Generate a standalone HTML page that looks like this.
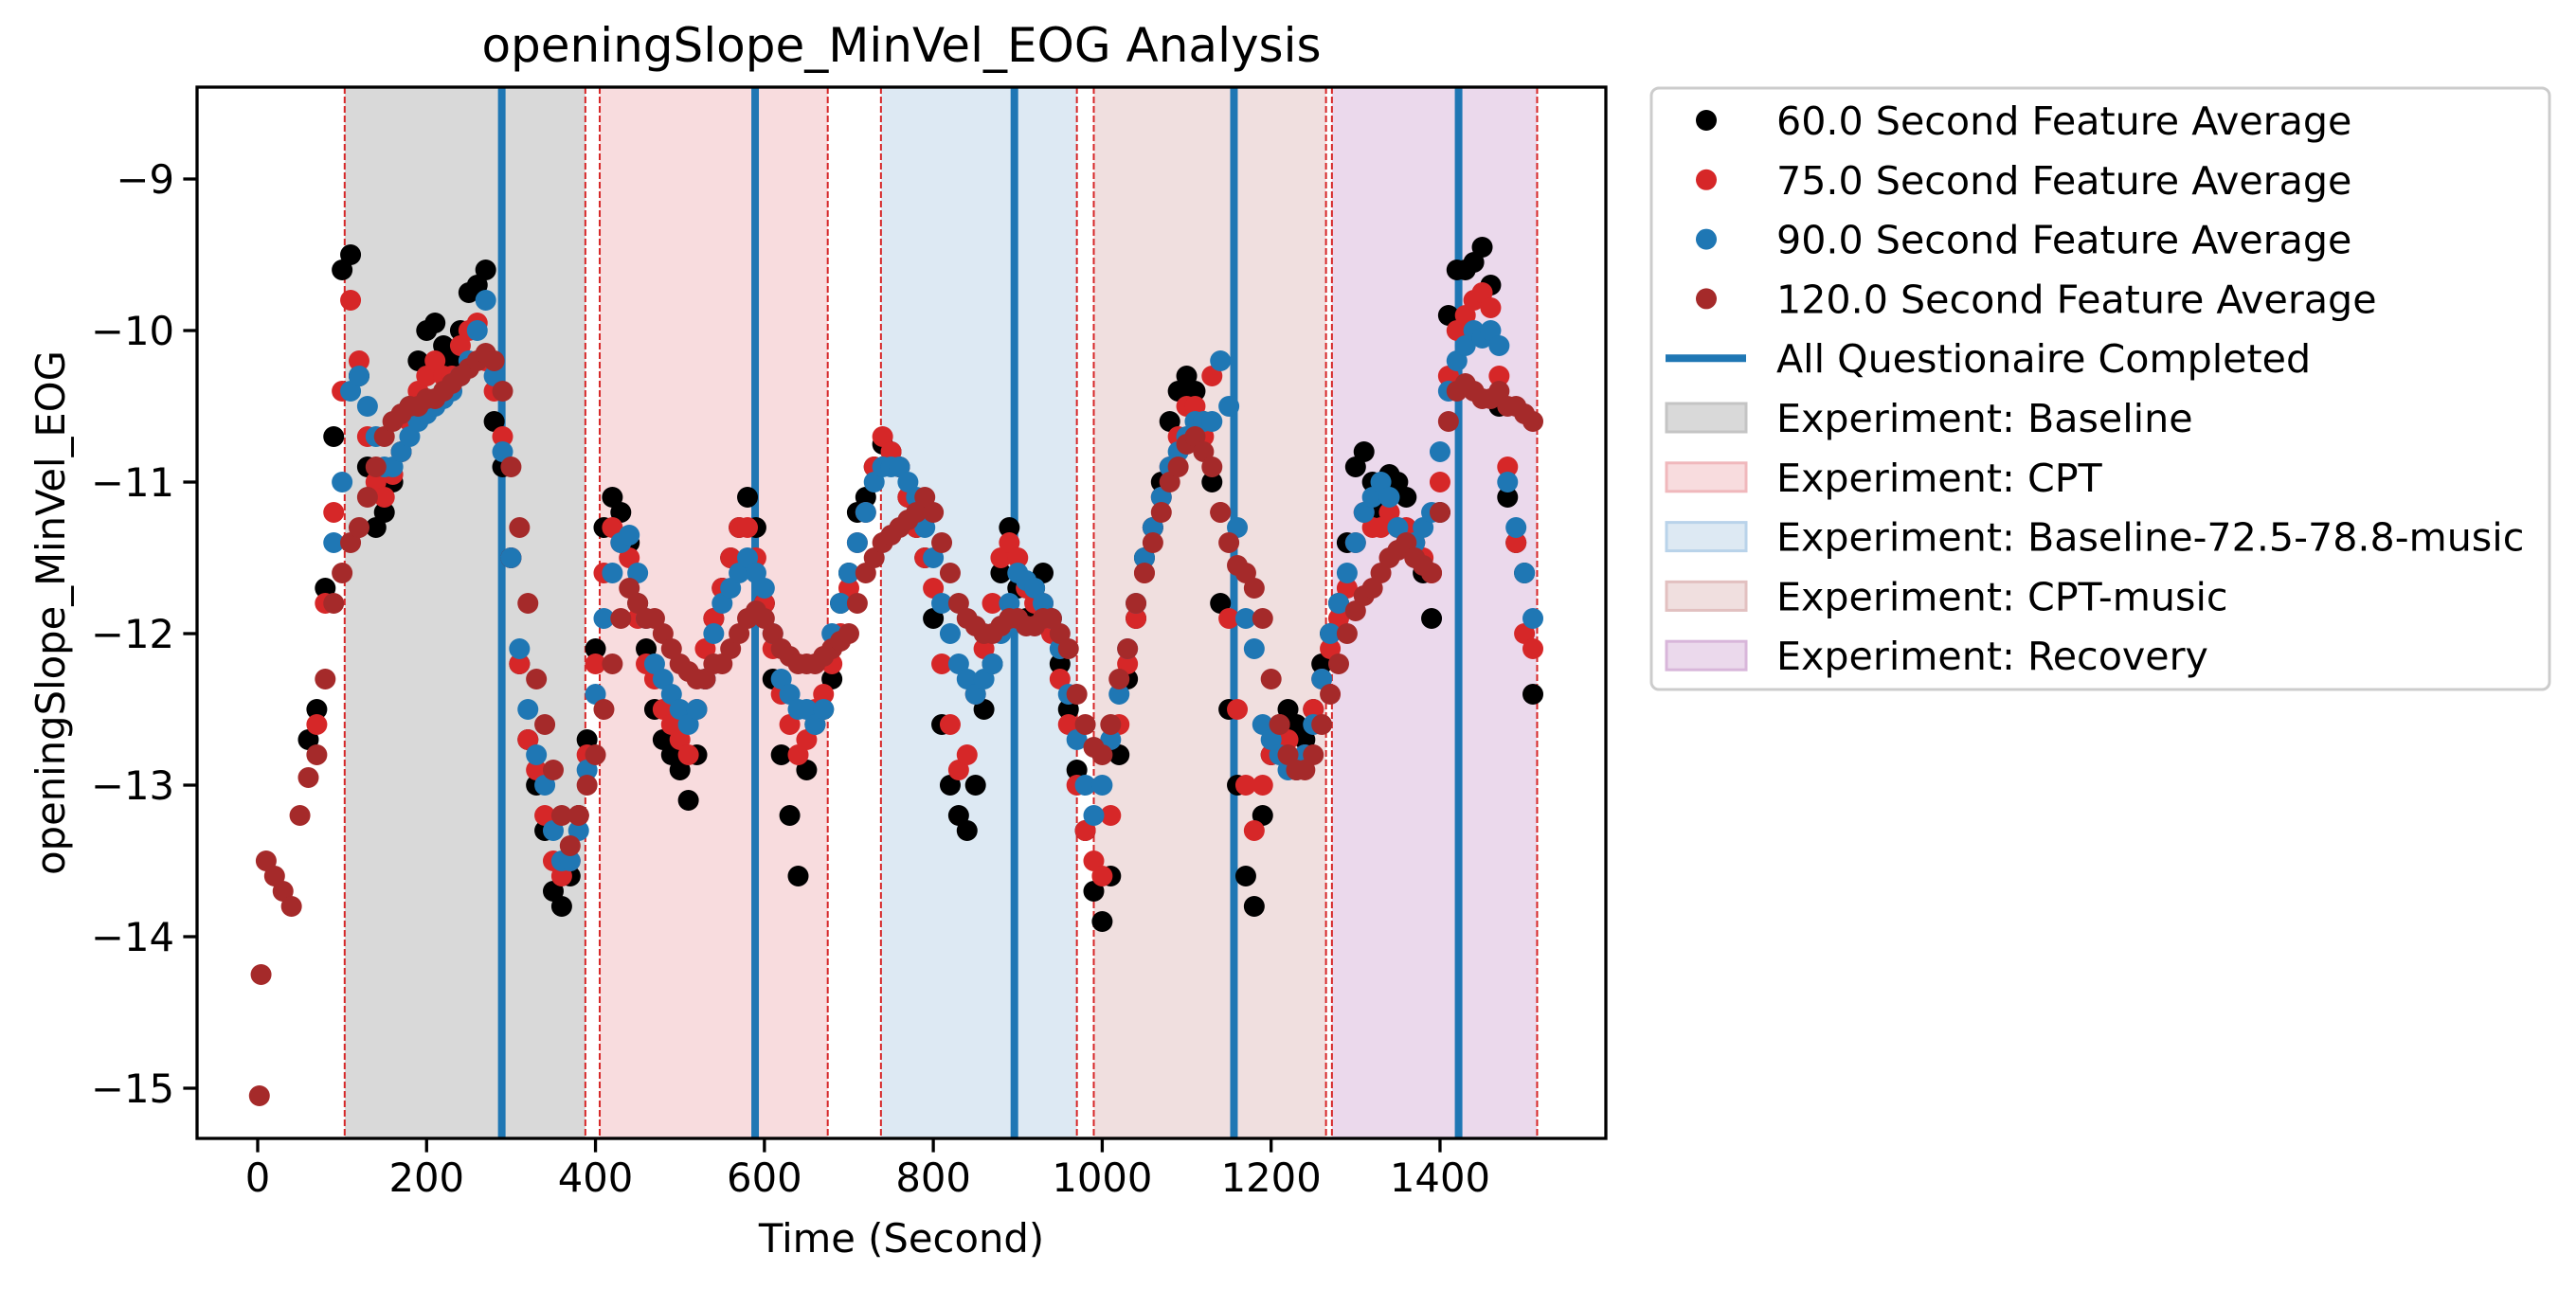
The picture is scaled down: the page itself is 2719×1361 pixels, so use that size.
<!DOCTYPE html>
<html><head><meta charset="utf-8">
<style>
html,body{margin:0;padding:0;background:#fff;}
svg{display:block;font-family:"DejaVu Sans","Liberation Sans",sans-serif;}
</style></head>
<body>
<svg id="chart" width="2719" height="1361" viewBox="0 0 2719 1361" xmlns="http://www.w3.org/2000/svg"></svg>
<script>
const t60=[60,70,80,90,100,110,120,130,140,150,160,170,180,190,200,210,220,230,240,250,260,270,280,290,300,310,320,330,340,350,360,370,380,390,400,410,420,430,440,450,460,470,480,490,500,510,520,530,540,550,560,570,580,590,600,610,620,630,640,650,660,670,680,690,700,710,720,730,740,750,760,770,780,790,800,810,820,830,840,850,860,870,880,890,900,910,920,930,940,950,960,970,980,990,1000,1010,1020,1030,1040,1050,1060,1070,1080,1090,1100,1110,1120,1130,1140,1150,1160,1170,1180,1190,1200,1210,1220,1230,1240,1250,1260,1270,1280,1290,1300,1310,1320,1330,1340,1350,1360,1370,1380,1390,1400,1410,1420,1430,1440,1450,1460,1470,1480,1490,1500,1510];
const v60=[-12.7,-12.5,-11.7,-10.7,-9.6,-9.5,-10.3,-10.9,-11.3,-11.2,-11.0,-10.8,-10.5,-10.2,-10.0,-9.95,-10.1,-10.2,-10.0,-9.75,-9.7,-9.6,-10.6,-10.9,-11.5,-12.2,-12.7,-13.0,-13.3,-13.7,-13.8,-13.6,-13.2,-12.7,-12.1,-11.3,-11.1,-11.2,-11.4,-11.8,-12.1,-12.5,-12.7,-12.8,-12.9,-13.1,-12.8,-12.3,-11.9,-11.7,-11.5,-11.3,-11.1,-11.3,-11.8,-12.3,-12.8,-13.2,-13.6,-12.9,-12.6,-12.5,-12.3,-11.8,-11.6,-11.2,-11.1,-10.9,-10.75,-10.8,-10.9,-11.1,-11.3,-11.5,-11.9,-12.6,-13.0,-13.2,-13.3,-13.0,-12.5,-12.2,-11.6,-11.3,-11.7,-11.9,-11.7,-11.6,-11.9,-12.2,-12.5,-12.9,-13.3,-13.7,-13.9,-13.6,-12.8,-12.3,-11.9,-11.5,-11.3,-11.0,-10.6,-10.4,-10.3,-10.4,-10.6,-11.0,-11.8,-12.5,-13.0,-13.6,-13.8,-13.2,-12.8,-12.6,-12.5,-12.6,-12.7,-12.5,-12.2,-12.0,-11.8,-11.4,-10.9,-10.8,-11.0,-11.2,-10.95,-11.0,-11.1,-11.4,-11.6,-11.9,-11.2,-9.9,-9.6,-9.6,-9.55,-9.45,-9.7,-10.5,-11.1,-11.4,-11.6,-12.4];
const t75=[70,80,90,100,110,120,130,140,150,160,170,180,190,200,210,220,230,240,250,260,270,280,290,300,310,320,330,340,350,360,370,380,390,400,410,420,430,440,450,460,470,480,490,500,510,520,530,540,550,560,570,580,590,600,610,620,630,640,650,660,670,680,690,700,710,720,730,740,750,760,770,780,790,800,810,820,830,840,850,860,870,880,890,900,910,920,930,940,950,960,970,980,990,1000,1010,1020,1030,1040,1050,1060,1070,1080,1090,1100,1110,1120,1130,1140,1150,1160,1170,1180,1190,1200,1210,1220,1230,1240,1250,1260,1270,1280,1290,1300,1310,1320,1330,1340,1350,1360,1370,1380,1390,1400,1410,1420,1430,1440,1450,1460,1470,1480,1490,1500,1510];
const v75=[-12.6,-11.8,-11.2,-10.4,-9.8,-10.2,-10.7,-11.0,-11.1,-10.95,-10.8,-10.6,-10.4,-10.3,-10.2,-10.3,-10.3,-10.1,-10.0,-9.95,-10.2,-10.4,-10.7,-11.5,-12.2,-12.7,-12.9,-13.2,-13.5,-13.6,-13.5,-13.2,-12.8,-12.2,-11.6,-11.3,-11.4,-11.5,-11.9,-12.2,-12.3,-12.5,-12.6,-12.7,-12.8,-12.5,-12.1,-11.9,-11.7,-11.5,-11.3,-11.3,-11.5,-11.8,-12.1,-12.4,-12.6,-12.8,-12.7,-12.5,-12.4,-12.2,-12.0,-11.7,-11.4,-11.2,-10.9,-10.7,-10.8,-10.9,-11.1,-11.3,-11.5,-11.7,-12.2,-12.6,-12.9,-12.8,-12.4,-12.1,-11.8,-11.5,-11.4,-11.5,-11.7,-11.8,-11.8,-12.0,-12.3,-12.6,-13.0,-13.3,-13.5,-13.6,-13.2,-12.6,-12.2,-11.9,-11.6,-11.3,-11.1,-10.9,-10.7,-10.5,-10.5,-10.7,-10.3,-11.2,-11.9,-12.5,-13.0,-13.3,-13.0,-12.8,-12.6,-12.7,-12.9,-12.8,-12.5,-12.3,-12.1,-11.9,-11.7,-11.4,-11.2,-11.3,-11.3,-11.2,-11.3,-11.3,-11.4,-11.5,-11.6,-11.0,-10.3,-10.0,-9.9,-9.8,-9.75,-9.85,-10.3,-10.9,-11.4,-12.0,-12.1];
const t90=[90,100,110,120,130,140,150,160,170,180,190,200,210,220,230,240,250,260,270,280,290,300,310,320,330,340,350,360,370,380,390,400,410,420,430,440,450,460,470,480,490,500,510,520,530,540,550,560,570,580,590,600,610,620,630,640,650,660,670,680,690,700,710,720,730,740,750,760,770,780,790,800,810,820,830,840,850,860,870,880,890,900,910,920,930,940,950,960,970,980,990,1000,1010,1020,1030,1040,1050,1060,1070,1080,1090,1100,1110,1120,1130,1140,1150,1160,1170,1180,1190,1200,1210,1220,1230,1240,1250,1260,1270,1280,1290,1300,1310,1320,1330,1340,1350,1360,1370,1380,1390,1400,1410,1420,1430,1440,1450,1460,1470,1480,1490,1500,1510];
const v90=[-11.4,-11.0,-10.4,-10.3,-10.5,-10.7,-10.9,-10.9,-10.8,-10.7,-10.6,-10.55,-10.5,-10.45,-10.4,-10.3,-10.2,-10.0,-9.8,-10.3,-10.8,-11.5,-12.1,-12.5,-12.8,-13.0,-13.3,-13.5,-13.5,-13.3,-12.9,-12.4,-11.9,-11.6,-11.4,-11.35,-11.6,-11.9,-12.2,-12.3,-12.4,-12.5,-12.6,-12.5,-12.3,-12.0,-11.8,-11.7,-11.6,-11.5,-11.6,-11.7,-12.0,-12.3,-12.4,-12.5,-12.5,-12.6,-12.5,-12.0,-11.8,-11.6,-11.4,-11.2,-11.0,-10.9,-10.9,-10.9,-11.0,-11.1,-11.3,-11.5,-11.8,-12.0,-12.2,-12.3,-12.4,-12.3,-12.2,-12.0,-11.8,-11.6,-11.65,-11.7,-11.8,-11.9,-12.1,-12.4,-12.7,-13.0,-13.2,-13.0,-12.7,-12.4,-12.1,-11.8,-11.5,-11.3,-11.1,-10.9,-10.8,-10.7,-10.6,-10.6,-10.6,-10.2,-10.5,-11.3,-11.9,-12.1,-12.6,-12.7,-12.8,-12.9,-12.9,-12.8,-12.6,-12.3,-12.0,-11.8,-11.6,-11.4,-11.2,-11.1,-11.0,-11.1,-11.3,-11.4,-11.4,-11.3,-11.2,-10.8,-10.4,-10.2,-10.1,-10.0,-10.05,-10.0,-10.1,-11.0,-11.3,-11.6,-11.9];
const t120=[2,4,10,20,30,40,50,60,70,80,90,100,110,120,130,140,150,160,170,180,190,200,210,220,230,240,250,260,270,280,290,300,310,320,330,340,350,360,370,380,390,400,410,420,430,440,450,460,470,480,490,500,510,520,530,540,550,560,570,580,590,600,610,620,630,640,650,660,670,680,690,700,710,720,730,740,750,760,770,780,790,800,810,820,830,840,850,860,870,880,890,900,910,920,930,940,950,960,970,980,990,1000,1010,1020,1030,1040,1050,1060,1070,1080,1090,1100,1110,1120,1130,1140,1150,1160,1170,1180,1190,1200,1210,1220,1230,1240,1250,1260,1270,1280,1290,1300,1310,1320,1330,1340,1350,1360,1370,1380,1390,1400,1410,1420,1430,1440,1450,1460,1470,1480,1490,1500,1510];
const v120=[-15.05,-14.25,-13.5,-13.6,-13.7,-13.8,-13.2,-12.95,-12.8,-12.3,-11.8,-11.6,-11.4,-11.3,-11.1,-10.9,-10.7,-10.6,-10.55,-10.5,-10.5,-10.45,-10.45,-10.4,-10.35,-10.3,-10.25,-10.2,-10.15,-10.2,-10.4,-10.9,-11.3,-11.8,-12.3,-12.6,-12.9,-13.2,-13.4,-13.2,-13.0,-12.8,-12.5,-12.2,-11.9,-11.7,-11.8,-11.9,-11.9,-12.0,-12.1,-12.2,-12.25,-12.3,-12.3,-12.2,-12.2,-12.1,-12.0,-11.9,-11.85,-11.9,-12.0,-12.1,-12.15,-12.2,-12.2,-12.2,-12.15,-12.1,-12.05,-12.0,-11.8,-11.6,-11.5,-11.4,-11.35,-11.3,-11.25,-11.2,-11.1,-11.2,-11.4,-11.6,-11.8,-11.9,-11.95,-12.0,-12.0,-11.95,-11.9,-11.9,-11.95,-11.95,-11.9,-11.9,-12.0,-12.1,-12.4,-12.6,-12.75,-12.8,-12.6,-12.3,-12.1,-11.8,-11.6,-11.4,-11.2,-11.0,-10.9,-10.75,-10.7,-10.8,-10.9,-11.2,-11.4,-11.55,-11.6,-11.7,-11.9,-12.3,-12.6,-12.8,-12.9,-12.9,-12.8,-12.6,-12.4,-12.2,-12.0,-11.85,-11.75,-11.7,-11.6,-11.5,-11.45,-11.4,-11.5,-11.55,-11.6,-11.2,-10.6,-10.4,-10.35,-10.4,-10.45,-10.45,-10.4,-10.5,-10.5,-10.55,-10.6];
const regionNames=["Experiment: Baseline","Experiment: CPT","Experiment: Baseline-72.5-78.8-music","Experiment: CPT-music","Experiment: Recovery"];
const regionStart=[103,405,738,990,1272];
const regionEnd=[388,675,970,1265,1515];
const questionTimes=[289,589,896,1156,1422];
const xTicks=[0,200,400,600,800,1000,1200,1400];
const yTicks=[-9,-10,-11,-12,-13,-14,-15];

const NS="http://www.w3.org/2000/svg";
const svg=document.getElementById('chart');
const L=208,R=1695,T=92,B=1202;
const X=t=>272+t*0.8914;
const Y=v=>189+(-9-v)*160;
const regionFill=["#d9d9d9","#f8dcde","#dde9f3","#f0dfdf","#ebd9ec"];
const regionEdge=["#c4c4c4","#f0b8bc","#b9d3ea","#e2c0c0","#d8b6da"];
const seriesColor=["#000000","#d62728","#1f77b4","#a52a2a"];
const seriesNames=["60.0 Second Feature Average","75.0 Second Feature Average","90.0 Second Feature Average","120.0 Second Feature Average"];
function el(tag,attrs,parent){const e=document.createElementNS(NS,tag);for(const k in attrs)e.setAttribute(k,attrs[k]);(parent||svg).appendChild(e);return e;}

const plot=el('g',{});


regionStart.forEach((s,i)=>{
  const r=el('rect',{x:X(s),y:T,width:X(regionEnd[i])-X(s),height:B-T,fill:regionFill[i]},plot);
  
  
});
regionStart.concat(regionEnd).forEach((s)=>{
  const l=el('line',{x1:X(s),x2:X(s),y1:T,y2:B,stroke:'#d62728','stroke-width':2,'stroke-dasharray':'7,3'},plot);
  
  
});
questionTimes.forEach(q=>{
  const l=el('line',{x1:X(q),x2:X(q),y1:T,y2:B,stroke:'#1f77b4','stroke-width':8},plot);
  
  
});
const series=[[t60,v60],[t75,v75],[t90,v90],[t120,v120]];
series.forEach((s,si)=>{
  const g=el('g',{fill:seriesColor[si]},plot);
  
  
  s[0].forEach((t,i)=>{
    const c=el('circle',{cx:X(t),cy:Y(s[1][i]),r:11},g);
    
    
  });
});
const frame=el('rect',{x:L,y:T,width:R-L,height:B-T,fill:'none',stroke:'#000','stroke-width':3.3});


xTicks.forEach(t=>{
  const l=el('line',{x1:X(t),x2:X(t),y1:B,y2:B+14.6,stroke:'#000','stroke-width':3.3});
  
  
  const tx=el('text',{x:X(t),y:B+56,'font-size':41.7,'text-anchor':'middle'});
  tx.textContent=t;
  
  
});
yTicks.forEach(v=>{
  const l=el('line',{x1:L-14.6,x2:L,y1:Y(v),y2:Y(v),stroke:'#000','stroke-width':3.3});
  
  
  const tx=el('text',{x:L-24,y:Y(v)+15,'font-size':41.7,'text-anchor':'end'});
  tx.textContent='\u2212'+Math.abs(v);
  
  
});
const title=el('text',{x:(L+R)/2,y:65,'font-size':50,'text-anchor':'middle'});
title.textContent='openingSlope_MinVel_EOG Analysis';


const xl=el('text',{x:(L+R)/2,y:1322,'font-size':41.7,'text-anchor':'middle'});
xl.textContent='Time (Second)';


const yl=el('text',{x:0,y:0,'font-size':41.7,'text-anchor':'middle',transform:'translate(68,647) rotate(-90)'});
yl.textContent='openingSlope_MinVel_EOG';



const lg=el('g',{});


const lbox=el('rect',{x:1743,y:93,width:948,height:635,rx:8,fill:'#fff',stroke:'#cccccc','stroke-width':3},lg);


const rowY=i=>127+i*62.8;
const labels=seriesNames.concat(["All Questionaire Completed"]).concat(regionNames);
labels.forEach((name,i)=>{
  const y=rowY(i);
  const e=el('g',{},lg);
  
  
  if(i<4){el('circle',{cx:1801,cy:y,r:11,fill:seriesColor[i]},e);}
  else if(i===4){el('line',{x1:1758,x2:1843,y1:y,y2:y,stroke:'#1f77b4','stroke-width':8},e);}
  else{const k=i-5;el('rect',{x:1759,y:y-15,width:84,height:30,fill:regionFill[k],stroke:regionEdge[k],'stroke-width':3},e);}
  const tx=el('text',{x:1875,y:y+15,'font-size':41.2},e);
  tx.textContent=name;
});
</script>
</body></html>
